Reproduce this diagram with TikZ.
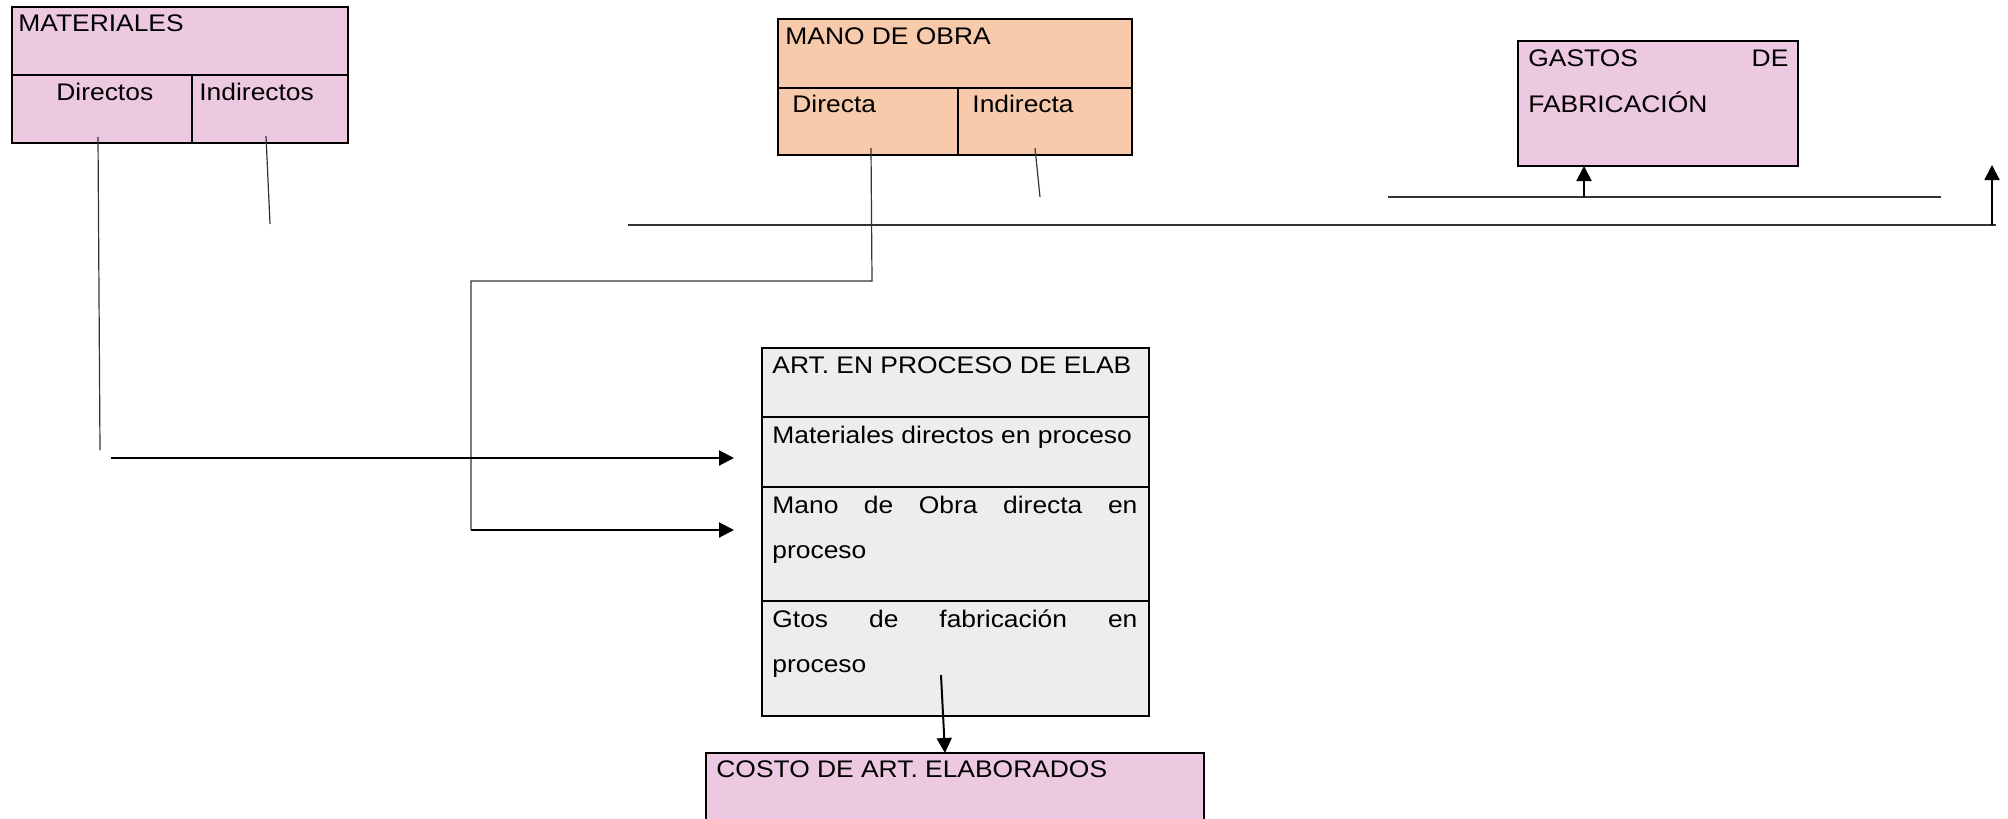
\documentclass[tikz,border=0pt]{standalone}
\usepackage{fontspec}
\setmainfont{Liberation Sans}[FakeStretch=1.1]
\usepackage{tikz}
\usetikzlibrary{arrows.meta,positioning,calc}
\definecolor{rosa}{RGB}{237,201,225}
\definecolor{naranja}{RGB}{247,202,172}
\definecolor{gris}{RGB}{237,237,237}
\tikzset{
  celda/.style={draw, line width=1pt, anchor=north west, inner sep=0pt, outer sep=0pt},
  txt/.style={anchor=base west, inner sep=0pt, font=\fontsize{12}{14}\selectfont},
  linea/.style={line width=0.6pt, draw=black!80},
  flecha/.style={line width=1pt, -{Triangle[length=7.5pt,width=7.5pt]}}
}

\begin{document}
\begin{tikzpicture}[x=0.5pt,y=-0.5pt]
    \useasboundingbox (0,0) rectangle (2008,819);
    % materiales
    \node[celda, fill=rosa, minimum width=168pt, minimum height=34pt] (mat) at (12,7) {};
    \node[celda, fill=rosa, minimum width=90pt, minimum height=34pt] (matdir) at (12,75) {};
    \node[celda, fill=rosa, minimum width=78pt, minimum height=34pt] (matind) at (192,75) {};
    \node[txt] (matT) at (18,32) {MATERIALES};
    \node[txt] (matdirT) at (56,100) {Directos};
    \node[txt] (matindT) at (199,100) {Indirectos};
    % mano de obra
    \node[celda, fill=naranja, minimum width=177pt, minimum height=34.5pt] (mo) at (778,19) {};
    \node[celda, fill=naranja, minimum width=90pt, minimum height=33.5pt] (modir) at (778,88) {};
    \node[celda, fill=naranja, minimum width=87pt, minimum height=33.5pt] (moind) at (958,88) {};
    \node[txt] (moT) at (785,44) {MANO DE OBRA};
    \node[txt] (modirT) at (792,112) {Directa};
    \node[txt] (moindT) at (972,112) {Indirecta};
    % gastos de fabricacion
    \node[celda, fill=rosa, minimum width=140pt, minimum height=62.5pt] (gf) at (1518,41) {};
    \node[txt] (gfT1) at (1528,66) {\hbox to 130pt{GASTOS\hfill DE}};
    \node[txt] (gfT2) at (1528,112) {FABRICACIÓN};
    % articulos en proceso
    \node[celda, fill=gris, minimum width=193.5pt, minimum height=34.5pt] (ap) at (762,348) {};
    \node[celda, fill=gris, minimum width=193.5pt, minimum height=35pt] (apmat) at (762,417) {};
    \node[celda, fill=gris, minimum width=193.5pt, minimum height=57pt] (apmo) at (762,487) {};
    \node[celda, fill=gris, minimum width=193.5pt, minimum height=57.5pt] (apgf) at (762,601) {};
    \node[txt] (apT) at (772,373) {ART. EN PROCESO DE ELAB};
    \node[txt] (apmatT) at (772,443) {Materiales directos en proceso};
    \node[txt] (apmoT1) at (772,513) {\hbox to 182.5pt{Mano\hfill de\hfill Obra\hfill directa\hfill en}};
    \node[txt] (apmoT2) at (772,558) {proceso};
    \node[txt] (apgfT1) at (772,627) {\hbox to 182.5pt{Gtos\hfill de\hfill fabricación\hfill en}};
    \node[txt] (apgfT2) at (772,672) {proceso};
    % costo
    \node[celda, fill=rosa, minimum width=249pt, minimum height=50pt] (costo) at (706,753) {};
    \node[txt] (costoT) at (716,777) {COSTO DE ART. ELABORADOS};

    % puntos sueltos
    \coordinate (d1) at (98,137);
    \coordinate (d2) at (100,450);
    \coordinate (i1) at (266,136);
    \coordinate (i2) at (270,224);
    \coordinate (f1) at (111,458);
    \coordinate (f1e) at (734,458);
    \coordinate (m1) at (871,148);
    \coordinate (m2) at (872,281);
    \coordinate (m3) at (471,281);
    \coordinate (m4) at (471,530);
    \coordinate (f2e) at (734,530);
    \coordinate (mi1) at (1035,148);
    \coordinate (mi2) at (1040,197);
    \coordinate (h1) at (628,225);
    \coordinate (h1e) at (1996,225);
    \coordinate (h2) at (1388,197);
    \coordinate (h2e) at (1941,197);
    \coordinate (g1) at (1584,197);
    \coordinate (r1) at (1992,225);
    \coordinate (r1e) at (1992,165);
    \coordinate (c1) at (941,675);
    \coordinate (c1e) at (945,753);

    \path[linea] (d1) -- (d2);
    \path[linea] (i1) -- (i2);
    \path[linea] (m1) -- (m2) -- (m3) -- (m4);
    \path[linea] (mi1) -- (mi2);
    \path[linea] (h1) -- (h1e);
    \path[linea] (h2) -- (h2e);
    \draw[flecha] (f1) -- (f1e);
    \draw[flecha] (m4) -- (f2e);
    \draw[flecha] (g1) -- (g1 |- gf.south);
    \draw[flecha] (r1) -- (r1e);
    \draw[flecha] (c1) -- (c1e);
\end{tikzpicture}
\end{document}
